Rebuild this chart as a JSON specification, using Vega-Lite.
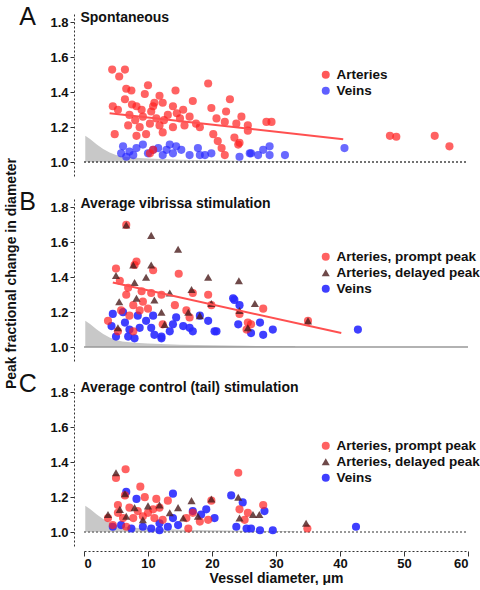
{
  "$schema": "https://vega.github.io/schema/vega-lite/v6.json",
  "padding": {"left": 4, "top": 5, "right": 5, "bottom": 0},
  "bounds": "flush",
  "config": {
    "font": "Liberation Sans",
    "view": {"stroke": null},
    "axis": {"grid": false, "labelFontSize": 13, "labelFontWeight": "bold", "labelColor": "#111", "domainDash": [2, 2], "domainColor": "#333", "tickColor": "#333", "tickSize": 4, "titleFontSize": 14, "titleFontWeight": "bold", "titleColor": "#111"},
    "legend": {"orient": "none", "title": null, "labelFontSize": 13.5, "labelFontWeight": "bold", "labelColor": "#111", "symbolSize": 64, "padding": 0, "rowPadding": 1, "labelOffset": 4, "symbolStrokeWidth": 0, "symbolOpacity": 0.75}
  },
  "datasets": {
    "thr": [
      {"d": 0.2, "f": 1.15}, {"d": 1, "f": 1.13}, {"d": 2, "f": 1.1}, {"d": 3, "f": 1.075}, {"d": 4, "f": 1.055}, {"d": 5, "f": 1.04}, {"d": 6, "f": 1.032}, {"d": 8, "f": 1.025}, {"d": 10, "f": 1.02}, {"d": 15, "f": 1.013}, {"d": 20, "f": 1.01}, {"d": 25, "f": 1.007}, {"d": 33, "f": 1.005}
    ],
    "base": [{"d": 0, "d2": 60, "f": 1}],
    "regA": [{"d": 4, "f": 1.28}, {"d": 40.5, "f": 1.13}],
    "regB": [{"d": 4.5, "f": 1.37}, {"d": 40.2, "f": 1.08}],
    "ptsA": [
      {"d": 6.1, "f": 1.09, "t": "Veins"}, {"d": 5.8, "f": 1.05, "t": "Veins"}, {"d": 7.1, "f": 1.06, "t": "Veins"}, {"d": 8.2, "f": 1.08, "t": "Veins"}, {"d": 9.2, "f": 1.1, "t": "Veins"}, {"d": 10, "f": 1.05, "t": "Veins"}, {"d": 11.6, "f": 1.08, "t": "Veins"}, {"d": 12.3, "f": 1.04, "t": "Veins"}, {"d": 13.4, "f": 1.1, "t": "Veins"}, {"d": 13.9, "f": 1.05, "t": "Veins"}, {"d": 15.2, "f": 1.07, "t": "Veins"}, {"d": 16.5, "f": 1.04, "t": "Veins"}, {"d": 17.8, "f": 1.08, "t": "Veins"}, {"d": 18.9, "f": 1.04, "t": "Veins"}, {"d": 19.9, "f": 1.05, "t": "Veins"}, {"d": 24.3, "f": 1.03, "t": "Veins"}, {"d": 25.9, "f": 1.05, "t": "Veins"}, {"d": 7.7, "f": 1.04, "t": "Veins"}, {"d": 10.8, "f": 1.07, "t": "Veins"}, {"d": 6.6, "f": 1.03, "t": "Veins"}, {"d": 12.9, "f": 1.07, "t": "Veins"}, {"d": 14.4, "f": 1.09, "t": "Veins"}, {"d": 18.1, "f": 1.04, "t": "Veins"}, {"d": 26.1, "f": 1.05, "t": "Veins"}, {"d": 27.2, "f": 1.04, "t": "Veins"}, {"d": 28, "f": 1.07, "t": "Veins"}, {"d": 29, "f": 1.09, "t": "Veins"}, {"d": 29, "f": 1.04, "t": "Veins"}, {"d": 31.4, "f": 1.04, "t": "Veins"}, {"d": 40.7, "f": 1.08, "t": "Veins"},
      {"d": 4.4, "f": 1.53, "t": "Arteries"}, {"d": 6.4, "f": 1.53, "t": "Arteries"}, {"d": 5.5, "f": 1.49, "t": "Arteries"}, {"d": 6.6, "f": 1.42, "t": "Arteries"}, {"d": 7.4, "f": 1.41, "t": "Arteries"}, {"d": 10, "f": 1.44, "t": "Arteries"}, {"d": 9.5, "f": 1.39, "t": "Arteries"}, {"d": 14.3, "f": 1.41, "t": "Arteries"}, {"d": 19.4, "f": 1.45, "t": "Arteries"}, {"d": 17, "f": 1.35, "t": "Arteries"}, {"d": 22.8, "f": 1.36, "t": "Arteries"}, {"d": 11.8, "f": 1.38, "t": "Arteries"}, {"d": 4.5, "f": 1.32, "t": "Arteries"}, {"d": 5.3, "f": 1.3, "t": "Arteries"}, {"d": 6.4, "f": 1.36, "t": "Arteries"}, {"d": 8.2, "f": 1.32, "t": "Arteries"}, {"d": 10.8, "f": 1.32, "t": "Arteries"}, {"d": 12.3, "f": 1.34, "t": "Arteries"}, {"d": 13.9, "f": 1.32, "t": "Arteries"}, {"d": 15.5, "f": 1.3, "t": "Arteries"}, {"d": 19.9, "f": 1.31, "t": "Arteries"}, {"d": 22.2, "f": 1.29, "t": "Arteries"}, {"d": 24.6, "f": 1.26, "t": "Arteries"}, {"d": 7.1, "f": 1.27, "t": "Arteries"}, {"d": 9.2, "f": 1.26, "t": "Arteries"}, {"d": 11.3, "f": 1.25, "t": "Arteries"}, {"d": 13.1, "f": 1.27, "t": "Arteries"}, {"d": 15, "f": 1.25, "t": "Arteries"}, {"d": 16.5, "f": 1.26, "t": "Arteries"}, {"d": 20.7, "f": 1.25, "t": "Arteries"}, {"d": 22, "f": 1.23, "t": "Arteries"}, {"d": 23.8, "f": 1.22, "t": "Arteries"}, {"d": 25.6, "f": 1.21, "t": "Arteries"}, {"d": 6.9, "f": 1.21, "t": "Arteries"}, {"d": 8.7, "f": 1.2, "t": "Arteries"}, {"d": 10.3, "f": 1.22, "t": "Arteries"}, {"d": 11.8, "f": 1.21, "t": "Arteries"}, {"d": 13.9, "f": 1.2, "t": "Arteries"}, {"d": 15.7, "f": 1.21, "t": "Arteries"}, {"d": 8.2, "f": 1.15, "t": "Arteries"}, {"d": 4.8, "f": 1.16, "t": "Arteries"}, {"d": 9.7, "f": 1.16, "t": "Arteries"}, {"d": 12.3, "f": 1.17, "t": "Arteries"}, {"d": 20.2, "f": 1.16, "t": "Arteries"}, {"d": 20.9, "f": 1.12, "t": "Arteries"}, {"d": 21.5, "f": 1.08, "t": "Arteries"}, {"d": 22, "f": 1.04, "t": "Arteries"}, {"d": 24.1, "f": 1.1, "t": "Arteries"}, {"d": 23.5, "f": 1.14, "t": "Arteries"}, {"d": 10.8, "f": 1.07, "t": "Arteries"}, {"d": 10.3, "f": 1.05, "t": "Arteries"}, {"d": 18.1, "f": 1.2, "t": "Arteries"}, {"d": 25.6, "f": 1.18, "t": "Arteries"}, {"d": 28.5, "f": 1.23, "t": "Arteries"}, {"d": 29.3, "f": 1.23, "t": "Arteries"}, {"d": 24.3, "f": 1.11, "t": "Arteries"}, {"d": 47.8, "f": 1.15, "t": "Arteries"}, {"d": 48.8, "f": 1.145, "t": "Arteries"}, {"d": 54.8, "f": 1.15, "t": "Arteries"}, {"d": 57.1, "f": 1.09, "t": "Arteries"}, {"d": 10.5, "f": 1.29, "t": "Arteries"}, {"d": 12.5, "f": 1.24, "t": "Arteries"}, {"d": 8, "f": 1.24, "t": "Arteries"}, {"d": 14.5, "f": 1.28, "t": "Arteries"}, {"d": 9, "f": 1.3, "t": "Arteries"}, {"d": 11, "f": 1.34, "t": "Arteries"}, {"d": 17.5, "f": 1.22, "t": "Arteries"}, {"d": 7.5, "f": 1.33, "t": "Arteries"}
    ],
    "ptsB": [
      {"d": 4.5, "f": 1.19, "t": "Veins"}, {"d": 6.1, "f": 1.2, "t": "Veins"}, {"d": 4.3, "f": 1.12, "t": "Veins"}, {"d": 6.4, "f": 1.14, "t": "Veins"}, {"d": 7.1, "f": 1.1, "t": "Veins"}, {"d": 6.9, "f": 1.06, "t": "Veins"}, {"d": 7.9, "f": 1.05, "t": "Veins"}, {"d": 8.7, "f": 1.11, "t": "Veins"}, {"d": 9.7, "f": 1.15, "t": "Veins"}, {"d": 10.5, "f": 1.11, "t": "Veins"}, {"d": 11, "f": 1.07, "t": "Veins"}, {"d": 12.1, "f": 1.06, "t": "Veins"}, {"d": 13.4, "f": 1.09, "t": "Veins"}, {"d": 13.9, "f": 1.13, "t": "Veins"}, {"d": 14.4, "f": 1.17, "t": "Veins"}, {"d": 15.5, "f": 1.12, "t": "Veins"}, {"d": 17, "f": 1.09, "t": "Veins"}, {"d": 18.1, "f": 1.18, "t": "Veins"}, {"d": 19.4, "f": 1.15, "t": "Veins"}, {"d": 20.7, "f": 1.09, "t": "Veins"}, {"d": 23.3, "f": 1.28, "t": "Veins"}, {"d": 24.3, "f": 1.24, "t": "Veins"}, {"d": 5, "f": 1.06, "t": "Veins"}, {"d": 8.4, "f": 1.18, "t": "Veins"}, {"d": 10.8, "f": 1.18, "t": "Veins"}, {"d": 16.5, "f": 1.11, "t": "Veins"}, {"d": 20.4, "f": 1.09, "t": "Veins"}, {"d": 12.1, "f": 1.05, "t": "Veins"}, {"d": 23.5, "f": 1.27, "t": "Veins"}, {"d": 24.1, "f": 1.13, "t": "Veins"}, {"d": 42.8, "f": 1.1, "t": "Veins"}, {"d": 29.5, "f": 1.1, "t": "Veins"}, {"d": 28, "f": 1.07, "t": "Veins"}, {"d": 26.1, "f": 1.08, "t": "Veins"}, {"d": 27.5, "f": 1.14, "t": "Veins"},
      {"d": 5, "f": 1.45, "t": "Arteries, prompt peak"}, {"d": 8.2, "f": 1.49, "t": "Arteries, prompt peak"}, {"d": 10.8, "f": 1.44, "t": "Arteries, prompt peak"}, {"d": 14.8, "f": 1.42, "t": "Arteries, prompt peak"}, {"d": 5.6, "f": 1.38, "t": "Arteries, prompt peak"}, {"d": 6.9, "f": 1.34, "t": "Arteries, prompt peak"}, {"d": 9, "f": 1.32, "t": "Arteries, prompt peak"}, {"d": 10.5, "f": 1.31, "t": "Arteries, prompt peak"}, {"d": 12.1, "f": 1.3, "t": "Arteries, prompt peak"}, {"d": 6.6, "f": 1.3, "t": "Arteries, prompt peak"}, {"d": 7.7, "f": 1.24, "t": "Arteries, prompt peak"}, {"d": 9.2, "f": 1.26, "t": "Arteries, prompt peak"}, {"d": 5.8, "f": 1.21, "t": "Arteries, prompt peak"}, {"d": 8.7, "f": 1.21, "t": "Arteries, prompt peak"}, {"d": 14.2, "f": 1.24, "t": "Arteries, prompt peak"}, {"d": 17, "f": 1.31, "t": "Arteries, prompt peak"}, {"d": 19.4, "f": 1.3, "t": "Arteries, prompt peak"}, {"d": 19.9, "f": 1.24, "t": "Arteries, prompt peak"}, {"d": 16, "f": 1.21, "t": "Arteries, prompt peak"}, {"d": 16.5, "f": 1.17, "t": "Arteries, prompt peak"}, {"d": 24.3, "f": 1.19, "t": "Arteries, prompt peak"}, {"d": 25.6, "f": 1.14, "t": "Arteries, prompt peak"}, {"d": 3.75, "f": 1.15, "t": "Arteries, prompt peak"}, {"d": 5.3, "f": 1.09, "t": "Arteries, prompt peak"}, {"d": 7.7, "f": 1.09, "t": "Arteries, prompt peak"}, {"d": 12.3, "f": 1.13, "t": "Arteries, prompt peak"}, {"d": 25.4, "f": 1.1, "t": "Arteries, prompt peak"}, {"d": 7.1, "f": 1.18, "t": "Arteries, prompt peak"}, {"d": 10, "f": 1.22, "t": "Arteries, prompt peak"}, {"d": 28, "f": 1.22, "t": "Arteries, prompt peak"}, {"d": 35, "f": 1.15, "t": "Arteries, prompt peak"}, {"d": 26.1, "f": 1.13, "t": "Arteries, prompt peak"}, {"d": 6.6, "f": 1.7, "t": "Arteries, prompt peak"}, {"d": 7.9, "f": 1.47, "t": "Arteries, prompt peak"},
      {"d": 6.6, "f": 1.7, "t": "Arteries, delayed peak"}, {"d": 10.5, "f": 1.64, "t": "Arteries, delayed peak"}, {"d": 14.7, "f": 1.56, "t": "Arteries, delayed peak"}, {"d": 7.7, "f": 1.47, "t": "Arteries, delayed peak"}, {"d": 10.5, "f": 1.47, "t": "Arteries, delayed peak"}, {"d": 5, "f": 1.41, "t": "Arteries, delayed peak"}, {"d": 19.4, "f": 1.4, "t": "Arteries, delayed peak"}, {"d": 24.2, "f": 1.38, "t": "Arteries, delayed peak"}, {"d": 16.8, "f": 1.33, "t": "Arteries, delayed peak"}, {"d": 13.4, "f": 1.31, "t": "Arteries, delayed peak"}, {"d": 7.9, "f": 1.37, "t": "Arteries, delayed peak"}, {"d": 9.7, "f": 1.4, "t": "Arteries, delayed peak"}, {"d": 5.5, "f": 1.26, "t": "Arteries, delayed peak"}, {"d": 8.2, "f": 1.28, "t": "Arteries, delayed peak"}, {"d": 11, "f": 1.27, "t": "Arteries, delayed peak"}, {"d": 19.9, "f": 1.25, "t": "Arteries, delayed peak"}, {"d": 12.1, "f": 1.2, "t": "Arteries, delayed peak"}, {"d": 16.3, "f": 1.2, "t": "Arteries, delayed peak"}, {"d": 18.1, "f": 1.18, "t": "Arteries, delayed peak"}, {"d": 24.3, "f": 1.21, "t": "Arteries, delayed peak"}, {"d": 25.6, "f": 1.11, "t": "Arteries, delayed peak"}, {"d": 5.3, "f": 1.11, "t": "Arteries, delayed peak"}, {"d": 12.6, "f": 1.13, "t": "Arteries, delayed peak"}, {"d": 26.7, "f": 1.25, "t": "Arteries, delayed peak"}, {"d": 35, "f": 1.15, "t": "Arteries, delayed peak"}
    ],
    "ptsC": [
      {"d": 6.6, "f": 1.23, "t": "Veins"}, {"d": 13.9, "f": 1.22, "t": "Veins"}, {"d": 8.2, "f": 1.19, "t": "Veins"}, {"d": 23, "f": 1.21, "t": "Veins"}, {"d": 19.1, "f": 1.13, "t": "Veins"}, {"d": 20.4, "f": 1.08, "t": "Veins"}, {"d": 4.5, "f": 1.03, "t": "Veins"}, {"d": 5.8, "f": 1.04, "t": "Veins"}, {"d": 7.4, "f": 1.02, "t": "Veins"}, {"d": 9.2, "f": 1.03, "t": "Veins"}, {"d": 10.5, "f": 1.02, "t": "Veins"}, {"d": 11.8, "f": 1.01, "t": "Veins"}, {"d": 13.1, "f": 1.03, "t": "Veins"}, {"d": 13.9, "f": 1.08, "t": "Veins"}, {"d": 14.7, "f": 1.04, "t": "Veins"}, {"d": 18.3, "f": 1.1, "t": "Veins"}, {"d": 23.8, "f": 1.03, "t": "Veins"}, {"d": 25.4, "f": 1.02, "t": "Veins"}, {"d": 24.8, "f": 1.17, "t": "Veins"}, {"d": 11.8, "f": 1.05, "t": "Veins"}, {"d": 17, "f": 1.12, "t": "Veins"}, {"d": 28.2, "f": 1.12, "t": "Veins"}, {"d": 26.1, "f": 1.02, "t": "Veins"}, {"d": 27.5, "f": 1.01, "t": "Veins"}, {"d": 29.5, "f": 1.01, "t": "Veins"}, {"d": 42.5, "f": 1.03, "t": "Veins"},
      {"d": 6.5, "f": 1.36, "t": "Arteries, prompt peak"}, {"d": 5, "f": 1.31, "t": "Arteries, prompt peak"}, {"d": 8.8, "f": 1.26, "t": "Arteries, prompt peak"}, {"d": 6.4, "f": 1.21, "t": "Arteries, prompt peak"}, {"d": 9.5, "f": 1.2, "t": "Arteries, prompt peak"}, {"d": 11.3, "f": 1.19, "t": "Arteries, prompt peak"}, {"d": 13.1, "f": 1.18, "t": "Arteries, prompt peak"}, {"d": 19.9, "f": 1.18, "t": "Arteries, prompt peak"}, {"d": 24.1, "f": 1.34, "t": "Arteries, prompt peak"}, {"d": 5.3, "f": 1.155, "t": "Arteries, prompt peak"}, {"d": 7.1, "f": 1.14, "t": "Arteries, prompt peak"}, {"d": 8.4, "f": 1.12, "t": "Arteries, prompt peak"}, {"d": 10, "f": 1.11, "t": "Arteries, prompt peak"}, {"d": 10.8, "f": 1.13, "t": "Arteries, prompt peak"}, {"d": 11.8, "f": 1.14, "t": "Arteries, prompt peak"}, {"d": 3.75, "f": 1.08, "t": "Arteries, prompt peak"}, {"d": 6.1, "f": 1.08, "t": "Arteries, prompt peak"}, {"d": 7.7, "f": 1.08, "t": "Arteries, prompt peak"}, {"d": 9.2, "f": 1.09, "t": "Arteries, prompt peak"}, {"d": 11, "f": 1.08, "t": "Arteries, prompt peak"}, {"d": 12.3, "f": 1.07, "t": "Arteries, prompt peak"}, {"d": 16, "f": 1.08, "t": "Arteries, prompt peak"}, {"d": 17, "f": 1.11, "t": "Arteries, prompt peak"}, {"d": 18.1, "f": 1.06, "t": "Arteries, prompt peak"}, {"d": 19.4, "f": 1.07, "t": "Arteries, prompt peak"}, {"d": 16.3, "f": 1.02, "t": "Arteries, prompt peak"}, {"d": 4.5, "f": 1.04, "t": "Arteries, prompt peak"}, {"d": 6.6, "f": 1.03, "t": "Arteries, prompt peak"}, {"d": 24.3, "f": 1.13, "t": "Arteries, prompt peak"}, {"d": 25.1, "f": 1.07, "t": "Arteries, prompt peak"}, {"d": 5.3, "f": 1.11, "t": "Arteries, prompt peak"}, {"d": 28, "f": 1.155, "t": "Arteries, prompt peak"}, {"d": 25.6, "f": 1.11, "t": "Arteries, prompt peak"}, {"d": 34.9, "f": 1.02, "t": "Arteries, prompt peak"},
      {"d": 5, "f": 1.34, "t": "Arteries, delayed peak"}, {"d": 6.4, "f": 1.22, "t": "Arteries, delayed peak"}, {"d": 16.8, "f": 1.18, "t": "Arteries, delayed peak"}, {"d": 19.9, "f": 1.19, "t": "Arteries, delayed peak"}, {"d": 24.1, "f": 1.2, "t": "Arteries, delayed peak"}, {"d": 14.7, "f": 1.14, "t": "Arteries, delayed peak"}, {"d": 3.75, "f": 1.1, "t": "Arteries, delayed peak"}, {"d": 5.6, "f": 1.13, "t": "Arteries, delayed peak"}, {"d": 7.9, "f": 1.14, "t": "Arteries, delayed peak"}, {"d": 10, "f": 1.15, "t": "Arteries, delayed peak"}, {"d": 11.8, "f": 1.155, "t": "Arteries, delayed peak"}, {"d": 13.4, "f": 1.11, "t": "Arteries, delayed peak"}, {"d": 6.6, "f": 1.09, "t": "Arteries, delayed peak"}, {"d": 9.2, "f": 1.07, "t": "Arteries, delayed peak"}, {"d": 15.5, "f": 1.08, "t": "Arteries, delayed peak"}, {"d": 17.8, "f": 1.09, "t": "Arteries, delayed peak"}, {"d": 24.3, "f": 1.08, "t": "Arteries, delayed peak"}, {"d": 26.4, "f": 1.1, "t": "Arteries, delayed peak"}, {"d": 27.4, "f": 1.1, "t": "Arteries, delayed peak"}, {"d": 34.7, "f": 1.05, "t": "Arteries, delayed peak"}
    ]
  },
  "spacing": 21,
  "resolve": {"scale": {"color": "independent", "shape": "independent", "opacity": "independent"}, "legend": {"color": "independent", "shape": "independent"}},
  "vconcat": [
    {
      "width": 384, "height": 164,
      "encoding": {
        "x": {"field": "d", "type": "quantitative", "scale": {"domain": [0, 60], "nice": false}, "axis": null},
        "y": {"field": "f", "type": "quantitative", "scale": {"domain": [0.92, 1.86], "nice": false, "zero": false}, "axis": {"values": [1, 1.2, 1.4, 1.6, 1.8], "format": ".1f", "offset": 10, "title": null}}
      },
      "layer": [
        {"data": {"name": "thr"}, "mark": {"type": "area", "color": "#c8c8c8"}, "encoding": {"y2": {"datum": 1}}},
        {"data": {"name": "base"}, "mark": {"type": "rule", "strokeDash": [2, 2], "color": "#444", "strokeWidth": 1.5}, "encoding": {"x2": {"field": "d2"}}},
        {"data": {"name": "ptsA"}, "mark": {"type": "point", "filled": true, "opacity": 0.7, "size": 66},
         "encoding": {
           "color": {"field": "t", "type": "nominal", "scale": {"domain": ["Arteries", "Veins"], "range": ["#ff2020", "#2a2aff"]}, "legend": {"legendX": 235, "legendY": 56}},
           "shape": {"field": "t", "type": "nominal", "scale": {"domain": ["Arteries", "Veins"], "range": ["circle", "circle"]}, "legend": {"legendX": 235, "legendY": 56}}}},
        {"data": {"name": "regA"}, "mark": {"type": "line", "color": "#ff5050", "strokeWidth": 2}, "encoding": {}},
        {"data": {"values": [{"label": "Spontaneous", "d": -0.55, "f": 1.825}]}, "mark": {"type": "text", "align": "left", "baseline": "middle", "fontSize": 14, "fontWeight": "bold", "color": "#111"}, "encoding": {"text": {"field": "label"}}},
        {"data": {"values": [{"label": "A", "d": -8.8, "f": 1.83}]}, "mark": {"type": "text", "align": "center", "baseline": "middle", "fontSize": 25, "color": "#111"}, "encoding": {"text": {"field": "label"}}}
      ]
    },
    {
      "width": 384, "height": 164,
      "encoding": {
        "x": {"field": "d", "type": "quantitative", "scale": {"domain": [0, 60], "nice": false}, "axis": null},
        "y": {"field": "f", "type": "quantitative", "scale": {"domain": [0.92, 1.86], "nice": false, "zero": false}, "axis": {"values": [1, 1.2, 1.4, 1.6, 1.8], "format": ".1f", "offset": 10, "title": "Peak fractional change in diameter", "titlePadding": 31, "titleY": 76}}
      },
      "layer": [
        {"data": {"name": "thr"}, "mark": {"type": "area", "color": "#c8c8c8"}, "encoding": {"y2": {"datum": 1}}},
        {"data": {"name": "base"}, "mark": {"type": "rule", "color": "#999", "strokeWidth": 1.5}, "encoding": {"x2": {"field": "d2"}}},
        {"data": {"name": "ptsB"}, "mark": {"type": "point", "filled": true, "size": 66},
         "encoding": {
           "opacity": {"field": "t", "type": "nominal", "scale": {"domain": ["Arteries, prompt peak", "Arteries, delayed peak", "Veins"], "range": [0.7, 0.9, 0.7]}, "legend": null},
           "color": {"field": "t", "type": "nominal", "scale": {"domain": ["Arteries, prompt peak", "Arteries, delayed peak", "Veins"], "range": ["#ff2020", "#4a1c1c", "#2a2aff"]}, "legend": {"legendX": 235, "legendY": 53}},
           "shape": {"field": "t", "type": "nominal", "scale": {"domain": ["Arteries, prompt peak", "Arteries, delayed peak", "Veins"], "range": ["circle", "triangle-up", "circle"]}, "legend": {"legendX": 235, "legendY": 53}}}},
        {"data": {"name": "regB"}, "mark": {"type": "line", "color": "#ff5050", "strokeWidth": 2}, "encoding": {}},
        {"data": {"values": [{"label": "Average vibrissa stimulation", "d": -0.55, "f": 1.82}]}, "mark": {"type": "text", "align": "left", "baseline": "middle", "fontSize": 14, "fontWeight": "bold", "color": "#111"}, "encoding": {"text": {"field": "label"}}},
        {"data": {"values": [{"label": "B", "d": -8.8, "f": 1.83}]}, "mark": {"type": "text", "align": "center", "baseline": "middle", "fontSize": 25, "color": "#111"}, "encoding": {"text": {"field": "label"}}}
      ]
    },
    {
      "width": 384, "height": 164,
      "encoding": {
        "x": {"field": "d", "type": "quantitative", "scale": {"domain": [0, 60], "nice": false}, "axis": {"values": [0, 10, 20, 30, 40, 50, 60], "offset": 5, "tickSize": 5, "labelPadding": 1, "title": "Vessel diameter, μm", "titlePadding": 1}},
        "y": {"field": "f", "type": "quantitative", "scale": {"domain": [0.92, 1.86], "nice": false, "zero": false}, "axis": {"values": [1, 1.2, 1.4, 1.6, 1.8], "format": ".1f", "offset": 10, "title": null}}
      },
      "layer": [
        {"data": {"name": "thr"}, "mark": {"type": "area", "color": "#c8c8c8"}, "encoding": {"y2": {"datum": 1}}},
        {"data": {"name": "base"}, "mark": {"type": "rule", "strokeDash": [2, 2], "color": "#777", "strokeWidth": 1.5}, "encoding": {"x2": {"field": "d2"}}},
        {"data": {"name": "ptsC"}, "mark": {"type": "point", "filled": true, "size": 66},
         "encoding": {
           "opacity": {"field": "t", "type": "nominal", "scale": {"domain": ["Arteries, prompt peak", "Arteries, delayed peak", "Veins"], "range": [0.7, 0.9, 0.7]}, "legend": null},
           "color": {"field": "t", "type": "nominal", "scale": {"domain": ["Arteries, prompt peak", "Arteries, delayed peak", "Veins"], "range": ["#ff2020", "#4a1c1c", "#2a2aff"]}, "legend": {"legendX": 235, "legendY": 57}},
           "shape": {"field": "t", "type": "nominal", "scale": {"domain": ["Arteries, prompt peak", "Arteries, delayed peak", "Veins"], "range": ["circle", "triangle-up", "circle"]}, "legend": {"legendX": 235, "legendY": 57}}}},
        {"data": {"values": [{"label": "Average control (tail) stimulation", "d": -0.55, "f": 1.825}]}, "mark": {"type": "text", "align": "left", "baseline": "middle", "fontSize": 14, "fontWeight": "bold", "color": "#111"}, "encoding": {"text": {"field": "label"}}},
        {"data": {"values": [{"label": "C", "d": -8.8, "f": 1.85}]}, "mark": {"type": "text", "align": "center", "baseline": "middle", "fontSize": 25, "color": "#111"}, "encoding": {"text": {"field": "label"}}}
      ]
    }
  ]
}
